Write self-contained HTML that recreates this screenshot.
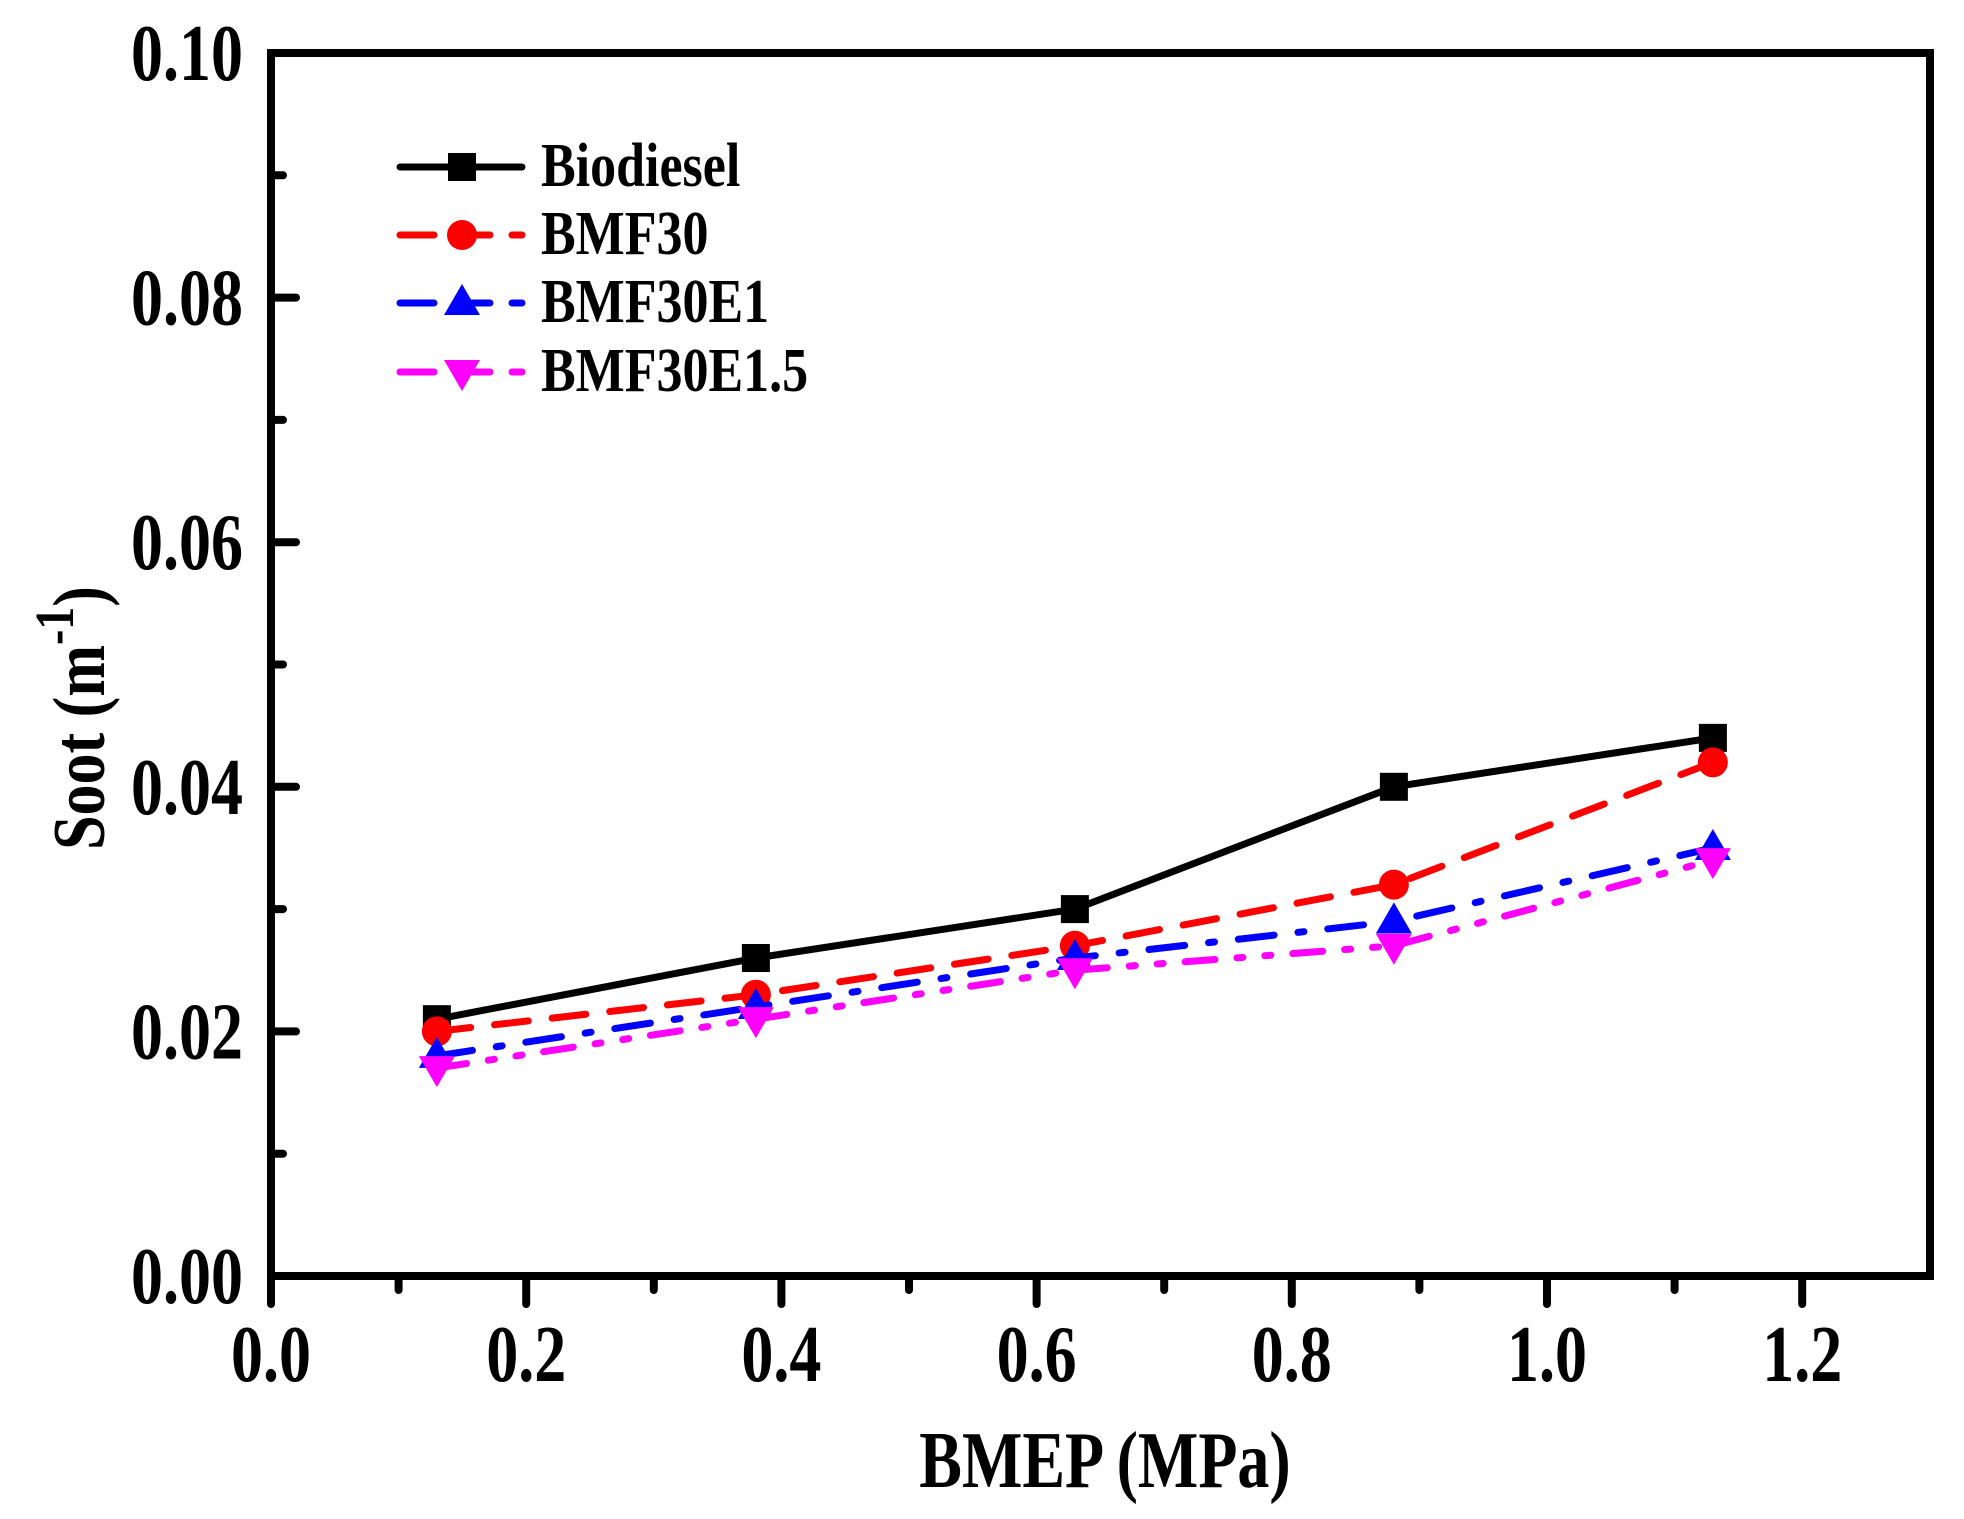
<!DOCTYPE html>
<html><head><meta charset="utf-8"><style>
html,body{margin:0;padding:0;background:#fff}
svg{display:block}
text{font-family:"Liberation Serif",serif;font-weight:bold;fill:#000}
</style></head><body>
<svg id="chart" width="1964" height="1519" viewBox="0 0 1964 1519" xmlns="http://www.w3.org/2000/svg">
<g id="axes"></g>
<g id="series"></g>
<g id="legend"></g>
<text transform="translate(1105,1487) scale(1,1.25)" font-size="64" text-anchor="middle">BMEP (MPa)</text>
<text transform="translate(104,718) rotate(-90) scale(1,1.2)" font-size="62" text-anchor="middle">Soot (m<tspan dy="-26" font-size="46">-1</tspan><tspan dy="26">)</tspan></text>
</svg>
<script>
const xValues=[0.13,0.38,0.63,0.88,1.13];
const biodiesel=[0.021,0.026,0.030,0.040,0.044];
const bmf30=[0.020,0.023,0.027,0.032,0.042];
const bmf30e1=[0.018,0.022,0.026,0.029,0.035];
const bmf30e15=[0.017,0.021,0.025,0.027,0.034];
const seriesNames=["Biodiesel","BMF30","BMF30E1","BMF30E1.5"];
const xTicks=["0.0","0.2","0.4","0.6","0.8","1.0","1.2"];
const yTicks=["0.00","0.02","0.04","0.06","0.08","0.10"];

const L=271,R=1930,T=53,B=1276;
const X=v=>L+v*1276;
const Y=v=>B-v/0.1*(B-T);
const NS="http://www.w3.org/2000/svg";
function mk(tag,attrs,parent){const e=document.createElementNS(NS,tag);for(const k in attrs)e.setAttribute(k,attrs[k]);parent.appendChild(e);return e;}
const axes=document.getElementById('axes');
for(let i=0;i<=12;i++){const v=i*0.1;const major=i%2===0;
 const t=mk('line',{x1:X(v),x2:X(v),y1:B,y2:B+(major?28:14),stroke:'#000','stroke-width':8,'stroke-linecap':'round'},axes);
 
 }
xTicks.forEach((s,i)=>{const t=mk('text',{transform:`translate(${X(i*0.2)},1381) scale(1,1.25)`,'font-size':64,'text-anchor':'middle'},axes);t.textContent=s;
 
 });
for(let i=0;i<=10;i++){const v=i*0.01;const major=i%2===0;
 const t=mk('line',{x1:L,x2:L+(major?25:12),y1:Y(v),y2:Y(v),stroke:'#000','stroke-width':8,'stroke-linecap':'round'},axes);
 
 }
yTicks.forEach((s,i)=>{const t=mk('text',{transform:`translate(243,${Y(i*0.02)+27}) scale(1,1.25)`,'font-size':64,'text-anchor':'end'},axes);t.textContent=s;
 
 });
const frame=mk('rect',{x:L,y:T,width:R-L,height:B-T,fill:'none',stroke:'#000','stroke-width':8},axes);



const styles=[
 {data:biodiesel,color:'#000',dash:'',marker:'square'},
 {data:bmf30,color:'#f00',dash:'34 24',marker:'circle'},
 {data:bmf30e1,color:'#00f',dash:'36 24 6 24',marker:'up'},
 {data:bmf30e15,color:'#f0f',dash:'30 22 6 22 6 22',marker:'down'}];
function marker(type,cx,cy,color,parent){
 let e;
 if(type==='square')e=mk('rect',{x:cx-14,y:cy-14,width:28,height:28,fill:color},parent);
 else if(type==='circle')e=mk('circle',{cx:cx,cy:cy,r:15,fill:color},parent);
 else if(type==='up')e=mk('polygon',{points:`${cx},${cy-19} ${cx+18},${cy+12} ${cx-18},${cy+12}`,fill:color},parent);
 else e=mk('polygon',{points:`${cx},${cy+19} ${cx+18},${cy-12} ${cx-18},${cy-12}`,fill:color},parent);
 return e;}
const sg=document.getElementById('series');
styles.forEach((s,si)=>{
 const g=mk('g',{},sg);
 
 
 const pts=s.data.map((v,i)=>X(xValues[i])+','+Y(v)).join(' ');
 const pl=mk('polyline',{points:pts,fill:'none',stroke:s.color,'stroke-width':7,'stroke-dasharray':s.dash,'stroke-linecap':'round','stroke-linejoin':'round'},g);
 
 
 s.data.forEach((v,i)=>{const m=marker(s.marker,X(xValues[i]),Y(v),s.color,g);
  
  });
});
const lg=document.getElementById('legend');
const rows=[167,235,303,372];
styles.forEach((s,i)=>{
 const g=mk('g',{},lg);
 
 
 mk('line',{x1:400,x2:522,y1:rows[i],y2:rows[i],stroke:s.color,'stroke-width':7,'stroke-dasharray':s.dash?'34 22':'','stroke-linecap':'round'},g);
 marker(s.marker,462,rows[i],s.color,g);
 const t=mk('text',{transform:`translate(541,${rows[i]+19}) scale(1,1.2)`,'font-size':52},g);t.textContent=seriesNames[i];
});
</script>
</body></html>
